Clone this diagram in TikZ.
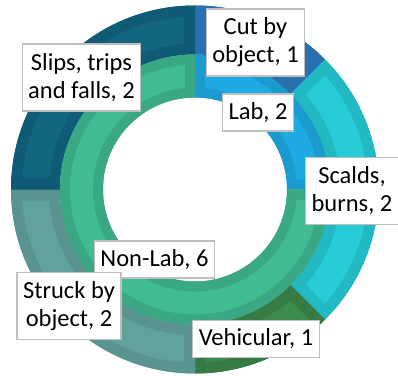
\documentclass[tikz,border=0pt]{standalone}
\usepackage{fontspec}
\setmainfont{Carlito}
\definecolor{cutL}{HTML}{2C76B8}
\definecolor{cutD}{HTML}{2A70AF}
\definecolor{scaL}{HTML}{27CDD6}
\definecolor{scaD}{HTML}{23B9C2}
\definecolor{vehL}{HTML}{3E8B4E}
\definecolor{vehD}{HTML}{367A45}
\definecolor{strL}{HTML}{62A29D}
\definecolor{strD}{HTML}{5A9490}
\definecolor{sliL}{HTML}{12677F}
\definecolor{sliD}{HTML}{0F5A74}
\definecolor{labL}{HTML}{1EAAE2}
\definecolor{labD}{HTML}{1B9ACF}
\definecolor{nonL}{HTML}{41BB93}
\definecolor{nonD}{HTML}{3AA884}
\definecolor{lblborder}{HTML}{BFBFBF}
\newcommand\ringpart[7]{%
  \def\segpath{(#1:#4) arc[start angle=#1,end angle=#2,radius=#4] -- (#2:#3) arc[start angle=#2,end angle=#1,radius=#3] -- cycle}%
  \begin{scope}
    \clip \segpath;
    \fill[#5] \segpath;
    \draw[#6, line width=#7] \segpath;
  \end{scope}}
\tikzset{
  lbl/.style={draw=lblborder, line width=1.3pt, fill=white, align=center,
    font=\fontsize{24.5}{28}\selectfont, inner xsep=6pt, inner ysep=0pt,
    text=black},
  one/.style={minimum height=37pt},
  two/.style={minimum height=67pt}
}
\begin{document}
\begin{tikzpicture}[x=1pt,y=1pt]
\useasboundingbox (0,0) rectangle (398,375);
\coordinate (c) at (195,185.5);
\begin{scope}[shift={(c)}]
  % outer ring
  \ringpart{90}{45}{135}{184}{cutL}{cutD}{22pt}
  \ringpart{45}{-45}{135}{184}{scaL}{scaD}{22pt}
  \ringpart{-45}{-90}{135}{184}{vehL}{vehD}{22pt}
  \ringpart{-90}{-180}{135}{184}{strL}{strD}{22pt}
  \ringpart{180}{90}{135}{184}{sliL}{sliD}{22pt}
  % inner ring
  \ringpart{90}{0}{92}{135}{labL}{labD}{20pt}
  \ringpart{0}{-270}{92}{135}{nonL}{nonD}{20pt}
\end{scope}
\node[lbl,two] (cut) at (255.5,332.5) {Cut by\\object, 1};
\node[lbl,one] (lab) at (258,262.5) {Lab, 2};
\node[lbl,two] (scalds) at (352,184) {Scalds,\\burns, 2};
\node[lbl,one] (nonlab) at (154.5,115.5) {Non-Lab, 6};
\node[lbl,two] (struck) at (69,69) {Struck by\\object, 2};
\node[lbl,one] (vehic) at (256,36) {Vehicular, 1};
\node[lbl,two] (slips) at (81.5,297.5) {Slips, trips\\and falls, 2};
\end{tikzpicture}
\end{document}
